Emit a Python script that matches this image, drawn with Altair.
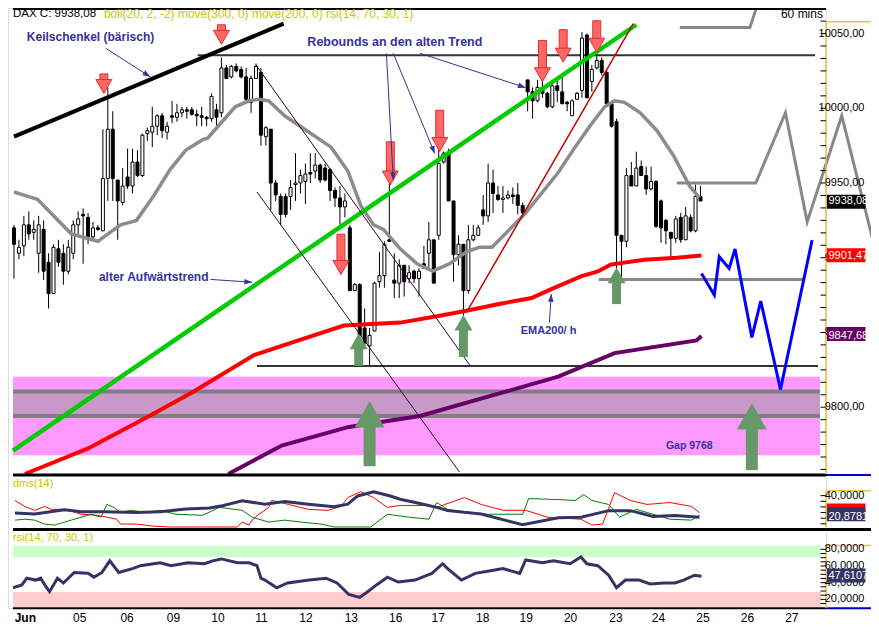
import json
import pandas as pd
import altair as alt

# ---------------- hourly candles (DAX, 60 mins) ----------------
bar_open = [9920, 9903, 9908, 9922, 9917, 9903, 9919, 9897, 9876, 9906,
            9903, 9891, 9903, 9922, 9929, 9927, 9914, 9920, 9918, 9953,
            9986, 9952, 9937, 9954, 9948, 9964, 9955, 9983, 9984, 9988,
            9995, 9984, 9995, 9994, 9997, 9999, 9999, 9996, 9995, 9994,
            9993, 9999, 9997, 10027, 10021, 10028, 10026, 10021, 10004, 10020,
            10024, 9981, 9986, 9950, 9941, 9941, 9941, 9949, 9950, 9951,
            9957, 9958, 9962, 9960, 9959, 9945, 9940, 9934, 9920, 9878,
            9882, 9853, 9841, 9851, 9884, 9888, 9912, 9885, 9883, 9895,
            9886, 9891, 9886, 9896, 9903, 9912, 9915, 9964, 9970, 9938,
            9902, 9909, 9878, 9912, 9915, 9932, 9928, 9950, 9942, 9939,
            9940, 9942, 9942, 9935, 10019, 10011, 10005, 10014, 10010, 10001,
            10015, 10011, 10004, 9995, 10006, 10012, 10049, 10018, 10027, 10032,
            10024, 10003, 9991, 9915, 9911, 9955, 9948, 9961, 9955, 9946,
            9951, 9938, 9925, 9917, 9913, 9927, 9912, 9927, 9918, 9941]
bar_high = [9922, 9912, 9928, 9931, 9925, 9928, 9925, 9903, 9909, 9912,
            9909, 9912, 9925, 9931, 9933, 9930, 9924, 9922, 9986, 10014,
            9998, 9952, 9960, 9973, 9973, 9972, 9983, 9987, 10001, 9996,
            9997, 9991, 10005, 10003, 10001, 10001, 10001, 9999, 10001, 9995,
            10010, 10003, 10034, 10029, 10029, 10030, 10028, 10027, 10022, 10030,
            10027, 9988, 9986, 9952, 9943, 9943, 9952, 9970, 9959, 9963,
            9970, 9970, 9963, 9963, 9960, 9947, 9948, 9943, 9922, 9883,
            9883, 9866, 9853, 9884, 9904, 9911, 9950, 9903, 9899, 9895,
            9895, 9892, 9893, 9908, 9924, 9912, 9983, 9971, 9973, 9938,
            9915, 9909, 9922, 9922, 9922, 9942, 9963, 9959, 9948, 9948,
            9945, 9947, 9950, 9937, 10019, 10014, 10019, 10019, 10011, 10016,
            10019, 10022, 10005, 10006, 10011, 10051, 10050, 10029, 10040, 10034,
            10026, 10004, 9993, 9915, 9960, 9964, 9971, 9965, 9961, 9961,
            9952, 9939, 9926, 9917, 9928, 9930, 9934, 9929, 9949, 9948]
bar_low = [9886, 9899, 9901, 9912, 9912, 9890, 9885, 9866, 9876, 9894,
           9882, 9889, 9899, 9914, 9896, 9909, 9911, 9918, 9918, 9938,
           9938, 9912, 9935, 9946, 9943, 9954, 9954, 9978, 9974, 9982,
           9980, 9979, 9990, 9991, 9994, 9993, 9995, 9988, 9988, 9988,
           9991, 9988, 9994, 10020, 10020, 10024, 10020, 10005, 9997, 10020,
           9975, 9975, 9932, 9938, 9922, 9927, 9932, 9938, 9943, 9936,
           9950, 9953, 9950, 9951, 9938, 9934, 9920, 9927, 9878, 9878,
           9843, 9841, 9828, 9851, 9880, 9880, 9911, 9873, 9873, 9874,
           9883, 9883, 9874, 9893, 9893, 9883, 9912, 9963, 9938, 9884,
           9895, 9859, 9876, 9911, 9915, 9922, 9924, 9930, 9938, 9930,
           9939, 9936, 9929, 9929, 9998, 9993, 10004, 10007, 10000, 10000,
           10004, 10003, 9998, 9995, 10006, 10007, 10007, 10011, 10026, 10022,
           10003, 9987, 9886, 9886, 9907, 9948, 9948, 9955, 9942, 9945,
           9920, 9910, 9909, 9899, 9910, 9910, 9912, 9917, 9917, 9938]
bar_close = [9909, 9907, 9922, 9916, 9919, 9922, 9891, 9876, 9907, 9897,
             9891, 9907, 9922, 9926, 9928, 9914, 9920, 9919, 9953, 9986,
             9953, 9938, 9948, 9948, 9964, 9955, 9982, 9985, 9988, 9995,
             9985, 9988, 9994, 9997, 9999, 9998, 9996, 9995, 9994, 9993,
             10008, 9994, 10027, 10020, 10028, 10025, 10021, 10006, 10020, 10028,
             9982, 9987, 9950, 9942, 9929, 9929, 9947, 9950, 9955, 9956,
             9956, 9962, 9952, 9952, 9945, 9940, 9934, 9938, 9878, 9882,
             9848, 9843, 9848, 9883, 9888, 9909, 9911, 9883, 9895, 9884,
             9890, 9886, 9891, 9893, 9912, 9883, 9963, 9970, 9938, 9902,
             9909, 9878, 9912, 9915, 9920, 9928, 9950, 9943, 9939, 9940,
             9942, 9941, 9935, 9930, 10011, 10005, 10014, 10010, 10001, 10015,
             10012, 10003, 10003, 10005, 10010, 10047, 10007, 10026, 10032, 10024,
             10003, 9988, 9915, 9911, 9955, 9948, 9960, 9955, 9946, 9951,
             9921, 9920, 9918, 9913, 9926, 9912, 9928, 9918, 9941, 9938]
bar_n = list(range(1, len(bar_open) + 1))

# ---------------- indicator lines (price panel) ----------------
boll_mid_n = [1, 5.8, 12.6, 18, 19.2, 22.6, 25.8, 29.2, 32.6, 35.8, 39.2, 40.2, 42.6, 45.8, 48.6,
              50.6, 52.6, 53.2, 55.8, 61.2, 65.2, 68.6, 71.2, 73.8, 75.8, 79.2, 82.6, 85.8, 89.2,
              92.6, 95.2, 97.8, 104.6, 107.8, 111.2, 114.6, 117.8, 120.6, 122.6, 124.6, 127.8,
              131.2, 134.6, 137.8, 139.8]
boll_mid_p = [9944, 9939, 9916, 9911, 9914, 9922, 9925, 9941, 9959, 9972, 9979, 9980, 9989, 10001, 10005,
              10006, 10005, 10003, 9995, 9983, 9974, 9958, 9935, 9922, 9919, 9906, 9896, 9891, 9896,
              9904, 9907, 9907, 9930, 9943, 9957, 9974, 9989, 10001, 10005, 10004, 9997,
              9985, 9968, 9948, 9940]
ema200_n = [3.2, 16, 28.4, 37.4, 49.6, 58.6, 67.8, 79.2, 87.2, 92.6, 99.2, 105.8, 109.8, 115.8,
            119.2, 121.8, 128.6, 135.2, 140.2]
ema200_p = [9755.3, 9772.4, 9794.1, 9810.5, 9834.9, 9844.7, 9854.6, 9856.6, 9861.2, 9864.5, 9869.1,
            9873.0, 9879.0, 9887.5, 9890.8, 9895.4, 9898.7, 9900.0, 9901.5]
ma300_n = [44.4, 55.2, 68.8, 83.2, 100, 111.2, 122.6, 139.2, 140.2]
ma300_p = [9755.3, 9774.3, 9786.8, 9794.1, 9809.9, 9820.4, 9836.2, 9844.7, 9847.7]

# projected paths
blue_n = [140.2, 142.8, 143.8, 145.8, 147, 150.4, 152.2, 156.2, 162.6]
blue_p = [9889.5, 9875.0, 9900.7, 9892.8, 9905.9, 9846.7, 9871.0, 9811.8, 9911.8]
grayfc_n = [135.2, 151.2, 157.2, 161.6, 168.6, 175]
grayfc_p = [9950, 9950, 9997, 9924, 9995, 9910.5]
graytop_n = [135.8, 150, 151.2]
graytop_p = [10054, 10054, 10066]

# straight lines: [n1, p1, n2, p2]
keil_line = [1.0, 9981.0, 55.6, 10056.6]
green_line = [0.8, 9771.0, 127.0, 10055.9]
red_line = [92.8, 9864.5, 126.4, 10056.6]
chan_a = [50.2, 9944.0, 91.2, 9756.6]
chan_b = [50.0, 10029.0, 93.4, 9827.6]
level_top = [38.2, 10035.5, 163.2, 10035.5]
level_low = [50.2, 9827.6, 163.8, 9827.6]
level_mid = [119.4, 9885.5, 160.8, 9885.5]
gap_zone = [0.8, 9767.8, 164.2, 9820.4]
gap_core = [0.8, 9794.1, 164.2, 9810.5]

# arrows
red_arrow_n = [19.2, 43, 67.2, 77.2, 87.2, 108, 112.2, 119]
red_arrow_tip = [10009.9, 10042.8, 9888.8, 9948.7, 9971.1, 10017.8, 10030.9, 10037.5]
red_arrow_top = [10023.0, 10055.9, 9915.8, 9977.6, 9998.7, 10045.4, 10052.6, 10058.6]
grn_small_n = [70.8, 92, 123]
grn_small_tip = [9849.3, 9861.8, 9893.4]
grn_small_bot = [9827.6, 9833.6, 9869.0]
grn_big_n = [73, 150.4]
grn_big_tip = [9804.0, 9802.6]
grn_big_bot = [9760.5, 9757.9]

# annotation pointers
ptr_n1 = [19.6, 76.4, 77.8, 83.2, 40.8, 109.4]
ptr_p1 = [10040.1, 10036.8, 10036.8, 10036.8, 9885.5, 9856.6]
ptr_n2 = [28.6, 77.8, 86.2, 104.6, 49.2, 109.8]
ptr_p2 = [10021.0, 9952.0, 9969.7, 10013.8, 9883.6, 9875.7]
ptr_ang = [123, 177, 158, 108, 94, 4]
note_txt = ["Keilschenkel (bärisch)", "Rebounds an den alten Trend", "alter Aufwärtstrend",
            "EMA200/ h", "Gap 9768"]
note_n = [3.6, 60.4, 18.2, 103.6, 133]
note_p = [10047.4, 10044.5, 9886.8, 9850.7, 9774.3]
note_size = [12, 12.5, 12, 11, 10.5]

# ---------------- dms(14) ----------------
adx_n = [1.2, 5.2, 11.2, 14.6, 19.2, 25.8, 30.6, 35.8, 40.6, 43.2, 47.2, 51.8, 55.8, 60.6, 65.8, 68.6,
         70.6, 73.8, 77.2, 79.2, 83.2, 86.6, 88.8, 95.6, 104, 111.2, 115.8, 121.4, 125.8, 130.4, 134.8, 139.8]
adx_v = [24.6, 23.7, 27.5, 25.8, 25.8, 25.0, 25.8, 28.1, 29.0, 31.1, 35.4, 32.4, 34.8, 32.4, 30.2, 32.4,
         39.7, 43.5, 39.7, 36.8, 33.0, 29.6, 26.7, 23.7, 14.2, 20.3, 20.9, 26.7, 26.7, 21.5, 22.3, 20.9]
dim_n = [1.2, 3.2, 5.2, 7.2, 8.6, 10.8, 12.2, 14.6, 17.8, 19.8, 21.8, 22.6, 25.8, 29.2, 32.6, 39.2,
         46.2, 47.2, 48.6, 49.2, 50.6, 52.6, 53.2, 56.6, 60.6, 64.6, 67.2, 68.6, 71.2, 73.8, 76.6, 79.2,
         84.6, 86.6, 92.2, 95.6, 100, 104.6, 109, 115.8, 118, 120.2, 122.6, 125.8, 129.2, 133.8, 138.2, 139.8]
dim_v = [35.7, 30.4, 27.0, 30.4, 27.8, 27.8, 27.0, 23.5, 22.6, 20.9, 19.1, 14.8, 14.8, 13.0, 12.2, 12.2,
         12.2, 16.5, 13.9, 18.3, 23.5, 29.6, 35.7, 32.2, 27.8, 27.0, 30.4, 38.3, 43.5, 38.3, 29.6, 31.3,
         31.3, 29.6, 38.3, 32.2, 27.0, 27.0, 20.9, 19.1, 13.9, 14.8, 42.6, 35.7, 32.2, 33.9, 30.4, 24.8]
dip_n = [1.2, 3.2, 5.2, 7.2, 9.2, 12.6, 16.6, 18.6, 19.8, 21.2, 22.6, 24.6, 27.8, 30.6, 33.8, 39.2,
         42.6, 47.2, 49.2, 52.6, 55.8, 59.2, 63.2, 65.8, 73.2, 76.6, 81, 85, 86.6, 88.8, 93.4, 96.8,
         104, 105.2, 111.4, 114.6, 116.4, 118, 121.4, 123.6, 127, 130.4, 133.8, 138.2, 139.8]
dip_v = [18.3, 19.1, 18.3, 14.8, 13.9, 18.3, 23.5, 20.9, 32.2, 29.6, 25.2, 27.0, 25.2, 27.0, 23.5, 22.6,
         29.6, 27.0, 20.9, 16.5, 18.3, 16.5, 14.8, 12.2, 12.2, 23.5, 20.9, 19.1, 33.9, 27.8, 25.2, 23.5,
         23.5, 37.4, 36.5, 35.7, 40.9, 35.7, 32.2, 20.9, 27.8, 23.5, 19.1, 18.3, 22.6]

# ---------------- rsi(14) ----------------
rsi_n = [0.8, 2.6, 3.6, 5.4, 6.4, 7.6, 8.2, 9.8, 11, 13.2, 16, 17.2, 18.8, 20.4, 22.2, 25, 26.6, 30.6,
         32.8, 36.2, 39.6, 41.2, 43, 46.2, 48.6, 50.2, 51, 51.8, 54.2, 56.4, 60.8, 64.2, 66.4, 68.8, 71,
         72.6, 74.4, 76.6, 78.8, 82.2, 85.6, 87.8, 88.8, 91.6, 94.4, 97.8, 100, 103.4, 104.6, 108, 110.2,
         113.6, 115.8, 117, 119.2, 121.4, 123, 124.8, 127.6, 129.8, 132.6, 134.8, 136.6, 138.8, 140.2]
rsi_v = [33.9, 37.3, 45.4, 43.1, 45.4, 33.9, 29.2, 45.4, 39.6, 52.3, 51.2, 46.6, 52.3, 66.2, 52.3, 56.9,
         60.4, 63.9, 60.4, 63.9, 62.7, 66.2, 68.5, 63.9, 63.9, 60.4, 45.4, 43.1, 33.9, 39.6, 43.1, 45.4,
         39.6, 25.8, 22.3, 29.2, 37.3, 46.6, 40.8, 43.1, 51.2, 62.7, 56.9, 43.1, 51.2, 54.6, 56.9, 51.2,
         67.3, 63.9, 66.2, 62.7, 70.8, 62.7, 60.4, 48.9, 33.9, 43.1, 43.1, 38.5, 39.6, 39.6, 43.1, 48.9, 47.6]
rsi_upper_zone = [70.8, 84.6]
rsi_lower_zone = [10.8, 28.8]

# ---------------- axis labels ----------------
day_lbl = ["Jun", "05", "06", "09", "10", "11", "12", "13", "16", "17", "18", "19", "20",
           "23", "24", "25", "26", "27"]
day_pos = [3.2, 14.2, 23.8, 33.2, 42.2, 51, 60, 69.2, 78.2, 86.8, 95.8, 104.6, 113.6,
           122.8, 131.4, 140.4, 149.4, 158.4]
price_lbl_v = [10050, 10000, 9950, 9900, 9850, 9800]
price_lbl_t = ["10050,00", "10000,00", "9950,00", "9900,00", "9850,00", "9800,00"]
dms_lbl_v = [40]
dms_lbl_t = ["40,0000"]
rsi_lbl_v = [80, 60, 40, 20]
rsi_lbl_t = ["80,0000", "60,0000", "40,0000", "20,0000"]
last_vals = [("9938,08", 9938.08, "price", "black"), ("9901,47", 9901.47, "price", "#ff0000"),
             ("9847,68", 9847.68, "price", "#660066"), ("24,7590", 24.759, "dms", "#ff0000"),
             ("20,8781", 20.8781, "dms", "#333366"), ("47,6107", 47.6107, "rsi", "#333366")]

# ================= chart =================
FONT = "Arial"
NAVY = "#333399"
XS = alt.Scale(domain=[0.8, 164.4], nice=False, zero=False)
LEXPR = json.dumps(day_lbl) + "[indexof(" + json.dumps(day_pos) + ", datum.value)]"
XAX = alt.Axis(values=day_pos, labelExpr=LEXPR, domain=False, ticks=False, grid=False,
               labelFont=FONT, labelFontSize=12, labelColor="black", labelPadding=4,
               labelOverlap=False,
               labelFontWeight=alt.condition("datum.value < 5", alt.value("bold"), alt.value("normal")))


def scale(panel):
    if panel == "price":
        return alt.Scale(domain=[9755.3, 10067.1], range=[466, 0], nice=False, zero=False)
    if panel == "dms":
        return alt.Scale(domain=[12.2, 57.4], range=[519, 468], nice=False, zero=False)
    return alt.Scale(domain=[9.6, 100.8], range=[600, 524], nice=False, zero=False)


def X(f):
    return alt.X(f"{f}:Q", scale=XS, axis=XAX, title=None)


def Y(f, panel):
    return alt.Y(f"{f}:Q", scale=scale(panel), axis=None, title=None)


layers = []


def seg(vals, panel, color, width):
    n1, v1, n2, v2 = vals
    df = pd.DataFrame({"n1": [n1], "n2": [n2], "v1": [v1], "v2": [v2]})
    layers.append(alt.Chart(df).mark_rule(color=color, strokeWidth=width).encode(
        x=X("n1"), x2=alt.X2("n2"), y=Y("v1", panel), y2=alt.Y2("v2")))


def box(vals, panel, color):
    n1, v1, n2, v2 = vals
    df = pd.DataFrame({"n1": [n1], "n2": [n2], "v1": [v1], "v2": [v2]})
    layers.append(alt.Chart(df).mark_rect(color=color).encode(
        x=X("n1"), x2=alt.X2("n2"), y=Y("v1", panel), y2=alt.Y2("v2")))


def line(ns, vs, panel, color, width):
    df = pd.DataFrame({"n": ns, "v": vs})
    layers.append(alt.Chart(df).mark_line(color=color, strokeWidth=width).encode(
        x=X("n"), y=Y("v", panel), order="n:Q"))


def text(ns, vs, txts, panel, color, size, align="left", weight="normal"):
    df = pd.DataFrame({"n": ns, "v": vs, "t": txts})
    layers.append(alt.Chart(df).mark_text(color=color, fontSize=size, font=FONT, align=align,
                                          baseline="middle", fontWeight=weight).encode(
        x=X("n"), y=Y("v", panel), text="t:N"))


# backgrounds
box(gap_zone, "price", "#ff99ff")
box(gap_core, "price", "#c898c8")
seg([gap_core[0], gap_core[1], gap_core[2], gap_core[1]], "price", "#808080", 4)
seg([gap_core[0], gap_core[3], gap_core[2], gap_core[3]], "price", "#808080", 4)
box([0.8, rsi_upper_zone[0], 164.4, rsi_upper_zone[1]], "rsi", "#ccffcc")
box([0.8, rsi_lower_zone[0], 164.4, rsi_lower_zone[1]], "rsi", "#ffcccc")
seg(level_top, "price", "#333333", 2)
seg(level_low, "price", "#333333", 2)
seg(level_mid, "price", "#888888", 3)

# candles
cdf = pd.DataFrame({"n": bar_n, "o": bar_open, "h": bar_high, "l": bar_low, "c": bar_close})
layers.append(alt.Chart(cdf).mark_rule(color="black", strokeWidth=1).encode(
    x=X("n"), y=Y("l", "price"), y2=alt.Y2("h")))
up = cdf[cdf.c >= cdf.o]
dn = cdf[cdf.c < cdf.o]
layers.append(alt.Chart(up).mark_bar(size=3, fill="white", stroke="black", strokeWidth=1).encode(
    x=X("n"), y=Y("o", "price"), y2=alt.Y2("c")))
layers.append(alt.Chart(dn).mark_bar(size=3, fill="black", stroke="black", strokeWidth=1).encode(
    x=X("n"), y=Y("o", "price"), y2=alt.Y2("c")))

# indicator lines
line(boll_mid_n, boll_mid_p, "price", "#8c8c8c", 3.5)
line(ma300_n, ma300_p, "price", "#660066", 4)
line(ema200_n, ema200_p, "price", "#ff0000", 4)
seg(keil_line, "price", "black", 4)
seg(green_line, "price", "#00cc00", 4.5)
seg(red_line, "price", "#cc0000", 1.5)
seg(chan_a, "price", "#330033", 1)
seg(chan_b, "price", "#330033", 1)
line(grayfc_n, grayfc_p, "price", "#888888", 3)
line(graytop_n, graytop_p, "price", "#888888", 3)
line(blue_n, blue_p, "price", "#0000ff", 3)

# red arrows
DOWN_HEAD = "M -1 -1.75 L 1 -1.75 L 0 0 Z"
UP_HEAD = "M -1 1.75 L 1 1.75 L 0 0 Z"
rdf = pd.DataFrame({"n": red_arrow_n, "tip": red_arrow_tip, "top": red_arrow_top})
rdf["base"] = rdf["tip"] + 8.0
layers.append(alt.Chart(rdf).mark_bar(size=8, fill="#ff6666", stroke="#e03030", strokeWidth=1).encode(
    x=X("n"), y=Y("top", "price"), y2=alt.Y2("base")))
layers.append(alt.Chart(rdf).mark_point(shape=DOWN_HEAD, size=256, filled=True, fill="#ff6666",
                                        stroke="#e03030", strokeWidth=1, opacity=1).encode(
    x=X("n"), y=Y("tip", "price")))
# green arrows
gs = pd.DataFrame({"n": grn_small_n, "tip": grn_small_tip, "bot": grn_small_bot})
gs["base"] = gs["tip"] - 9.0
layers.append(alt.Chart(gs).mark_bar(size=9, fill="#669966").encode(
    x=X("n"), y=Y("bot", "price"), y2=alt.Y2("base")))
layers.append(alt.Chart(gs).mark_point(shape=UP_HEAD, size=324, filled=True, fill="#669966",
                                       strokeWidth=0, opacity=1).encode(
    x=X("n"), y=Y("tip", "price")))
gb = pd.DataFrame({"n": grn_big_n, "tip": grn_big_tip, "bot": grn_big_bot})
gb["base"] = gb["tip"] - 16.0
layers.append(alt.Chart(gb).mark_bar(size=12, fill="#669966").encode(
    x=X("n"), y=Y("bot", "price"), y2=alt.Y2("base")))
layers.append(alt.Chart(gb).mark_point(shape=UP_HEAD, size=900, filled=True, fill="#669966",
                                       strokeWidth=0, opacity=1).encode(
    x=X("n"), y=Y("tip", "price")))

# annotation pointers and notes
pdf = pd.DataFrame({"n1": ptr_n1, "p1": ptr_p1, "n2": ptr_n2, "p2": ptr_p2, "a": ptr_ang})
layers.append(alt.Chart(pdf).mark_rule(color=NAVY, strokeWidth=1).encode(
    x=X("n1"), x2=alt.X2("n2"), y=Y("p1", "price"), y2=alt.Y2("p2")))
layers.append(alt.Chart(pdf).mark_point(shape="M -0.8 2.2 L 0.8 2.2 L 0 0 Z", size=49, filled=True,
                                        fill=NAVY, strokeWidth=0, opacity=1).encode(
    x=X("n2"), y=Y("p2", "price"), angle=alt.Angle("a:Q", scale=None)))
for t, n, p, s in zip(note_txt, note_n, note_p, note_size):
    text([n], [p], [t], "price", NAVY, s, weight="bold")

# dms panel
line(dim_n, dim_v, "dms", "#ff0000", 1)
line(dip_n, dip_v, "dms", "#008000", 1)
line(adx_n, adx_v, "dms", "#333366", 3)
# rsi panel
line(rsi_n, rsi_v, "rsi", "#333366", 3)

# frames
seg([0.8, 10066.4, 165.4, 10066.4], "price", "black", 2)
seg([0.8, 9754.6, 165.4, 9754.6], "price", "black", 3)
seg([165.4, 9754.6, 175, 9754.6], "price", "#0000cc", 2)
seg([0.8, 10.0, 175, 10.0], "dms", "black", 3)
seg([0.8, 9.4, 165.4, 9.4], "rsi", "black", 2)
seg([165.4, 9.4, 175, 9.4], "rsi", "#0000cc", 2)
for panel, top, bot in [("price", 10057.9, 9755.3), ("dms", 44.3, 12.2), ("rsi", 84.6, 9.6)]:
    seg([165.4, top, 165.4, bot], panel, "#f0c040", 1.5)
    seg([165.4, top, 175, top], panel, "#f0c040", 1.5)

# right-side ticks
price_ticks = [9750 + 50 * i / 6 for i in range(1, 38)]
dms_ticks = [15, 20, 25, 30, 35, 40]
rsi_ticks = [15, 20, 25, 30, 35, 40, 45, 50, 55, 60, 65, 70, 75, 80]
for panel, ticks in [("price", price_ticks), ("dms", dms_ticks), ("rsi", rsi_ticks)]:
    tdf = pd.DataFrame({"v": ticks, "n1": 164.3, "n2": 165.4})
    layers.append(alt.Chart(tdf).mark_rule(color="black", strokeWidth=1).encode(
        x=X("n1"), x2=alt.X2("n2"), y=Y("v", panel)))

# right-side labels
text([173.2] * len(price_lbl_v), price_lbl_v, price_lbl_t, "price", "black", 11, align="right")
text([173.2] * len(dms_lbl_v), dms_lbl_v, dms_lbl_t, "dms", "black", 11, align="right")
text([173.2] * len(rsi_lbl_v), rsi_lbl_v, rsi_lbl_t, "rsi", "black", 11, align="right")
for t, v, panel, col in last_vals:
    bdf = pd.DataFrame({"n1": [165.6], "n2": [173.4], "v": [v], "t": [t], "tn": [165.9]})
    layers.append(alt.Chart(bdf).mark_bar(orient="horizontal", size=14, color=col).encode(
        x=X("n1"), x2=alt.X2("n2"), y=Y("v", panel)))
    layers.append(alt.Chart(bdf).mark_text(color="white", fontSize=11, font=FONT, align="left",
                                           baseline="middle").encode(
        x=X("tn"), y=Y("v", panel), text="t:N"))

# headers
text([0.8], [10063.1], ["DAX C: 9938,08"], "price", "black", 11.5)
text([19.2], [10063.1], ["boll(20, 2, -2) move(300, 0) move(200, 0) rsi(14, 70, 30, 1)"],
     "price", "#c8c800", 12)
text([164.8], [10063.1], ["60 mins"], "price", "black", 12, align="right")
text([0.8], [50.4], ["dms(14)"], "dms", "#c8c800", 11)
text([0.8], [93.8], ["rsi(14, 70, 30, 1)"], "rsi", "#c8c800", 11)

chart = alt.layer(*layers).resolve_scale(y="independent").properties(
    width=818, height=600,
    autosize=alt.AutoSizeParams(type="none"),
    padding={"left": 0, "top": 0, "right": 45, "bottom": 17},
).configure_view(stroke=None).configure(background="white")

chart.save("out.html", embed_options={"renderer": "svg", "actions": False})
